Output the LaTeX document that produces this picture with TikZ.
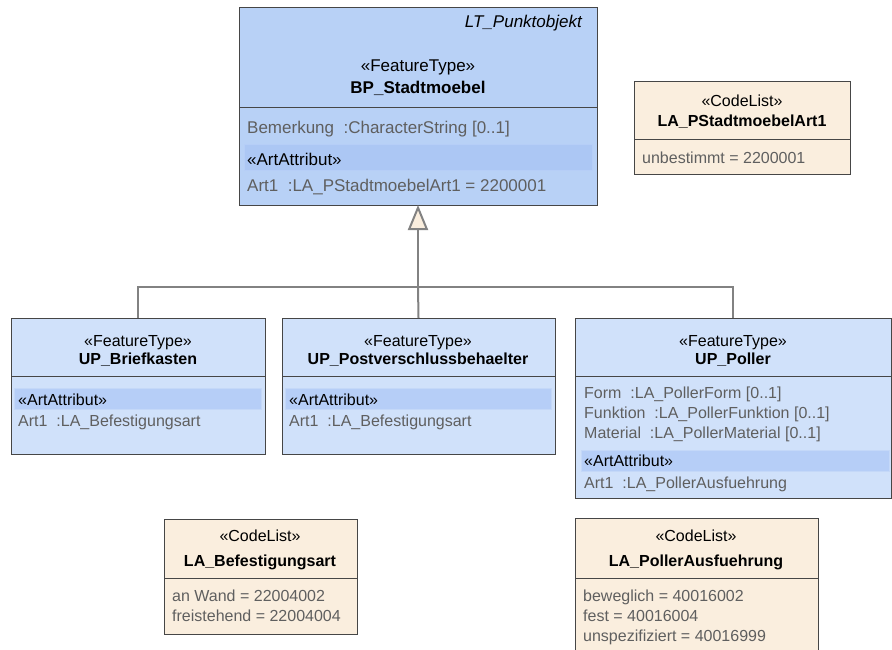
\documentclass[tikz,border=0pt]{standalone}
\usepackage{fontspec}
\setmainfont{Liberation Sans}
\usetikzlibrary{arrows.meta}
\definecolor{umlline}{RGB}{70,70,70}
\definecolor{mainfill}{RGB}{184,209,246}
\definecolor{mainband}{RGB}{172,199,244}
\definecolor{featurefill}{RGB}{208,225,250}
\definecolor{bandfill}{RGB}{182,206,247}
\definecolor{bandline}{RGB}{196,216,248}
\definecolor{codefill}{RGB}{250,238,222}
\definecolor{attrtext}{RGB}{95,95,95}
\definecolor{linkgray}{RGB}{130,130,130}
\begin{document}
\begin{tikzpicture}[x=1pt,y=-1pt]
            \tikzstyle{classbox}=[draw=umlline, line width=1pt, anchor=north west, inner sep=0pt, outer sep=0pt]
            \tikzstyle{feature}=[classbox, fill=featurefill]
            \tikzstyle{codelist}=[classbox, fill=codefill]
            \tikzstyle{stereo}=[anchor=base, inner sep=0pt, font=\fontsize{16}{19}\selectfont]
            \tikzstyle{cname}=[anchor=base, inner sep=0pt, font=\fontsize{16}{19}\selectfont\bfseries]
            \tikzstyle{attr}=[anchor=base west, inner sep=0pt, text=attrtext, font=\fontsize{16}{19}\selectfont]
            \tikzstyle{band}=[fill=bandfill, draw=bandline, line width=1pt]
            \tikzstyle{link}=[draw=linkgray, line width=2pt]
            \useasboundingbox (0,0) rectangle (892,650);
            \node[feature, fill=mainfill, minimum width=358, minimum height=197] (stadtmoebel) at (239,8) {};
            \draw[umlline, line width=1pt] (239,108) -- (597,108);
            \draw[band, fill=mainband, draw=bandfill] (244,145) rectangle (592,171);
            \node[anchor=base east, inner sep=0pt, font=\fontsize{17}{20}\selectfont\itshape] (stadtmoebeltag) at (582,28) {LT\_Punktobjekt};
            \node[stereo, font=\fontsize{17}{20}\selectfont] (stadtmoebelstereo) at (418,72) {«FeatureType»};
            \node[cname, font=\fontsize{17}{20}\selectfont\bfseries] (stadtmoebelname) at (418,94) {BP\_Stadtmoebel};
            \node[attr, font=\fontsize{17}{20}\selectfont] (bemerkung) at (247,134) {Bemerkung\ \ :CharacterString [0..1]};
            \node[attr, text=black, font=\fontsize{17}{20}\selectfont] (stadtmoebelart) at (247,166) {«ArtAttribut»};
            \node[attr, font=\fontsize{17}{20}\selectfont] (stadtmoebelartone) at (247,192) {Art1\ \ :LA\_PStadtmoebelArt1 = 2200001};
            \node[codelist, minimum width=216, minimum height=93] (artliste) at (634,82) {};
            \draw[umlline, line width=1pt] (634,140) -- (850,140);
            \node[stereo] (artlistestereo) at (742,107) {«CodeList»};
            \node[cname] (artlistename) at (742,127) {LA\_PStadtmoebelArt1};
            \node[attr] (unbestimmt) at (642,164) {unbestimmt = 2200001};
            \node[feature, minimum width=254, minimum height=136] (briefkasten) at (11,318) {};
            \draw[umlline, line width=1pt] (11,376) -- (265,376);
            \draw[band] (14,388) rectangle (261,409);
            \node[stereo] (briefkastenstereo) at (138,346) {«FeatureType»};
            \node[cname] (briefkastenname) at (138,364) {UP\_Briefkasten};
            \node[attr, text=black] (briefkastenart) at (18,405) {«ArtAttribut»};
            \node[attr] (briefkastenartone) at (18,426) {Art1\ \ :LA\_Befestigungsart};
            \node[feature, minimum width=273, minimum height=136] (postbehaelter) at (282,318) {};
            \draw[umlline, line width=1pt] (282,376) -- (555,376);
            \draw[band] (285,388) rectangle (551,409);
            \node[stereo] (postbehaelterstereo) at (418,346) {«FeatureType»};
            \node[cname] (postbehaeltername) at (418,364) {UP\_Postverschlussbehaelter};
            \node[attr, text=black] (postbehaelterart) at (289,405) {«ArtAttribut»};
            \node[attr] (postbehaelterartone) at (289,426) {Art1\ \ :LA\_Befestigungsart};
            \node[feature, minimum width=316, minimum height=180] (poller) at (575,318) {};
            \draw[umlline, line width=1pt] (575,376) -- (891,376);
            \draw[band] (581,450) rectangle (889,471);
            \node[stereo] (pollerstereo) at (733,346) {«FeatureType»};
            \node[cname] (pollername) at (733,364) {UP\_Poller};
            \node[attr] (pollerform) at (584,398) {Form\ \ :LA\_PollerForm [0..1]};
            \node[attr] (pollerfunktion) at (584,418) {Funktion\ \ :LA\_PollerFunktion [0..1]};
            \node[attr] (pollermaterial) at (584,438) {Material\ \ :LA\_PollerMaterial [0..1]};
            \node[attr, text=black] (pollerart) at (584,466) {«ArtAttribut»};
            \node[attr] (pollerartone) at (584,488) {Art1\ \ :LA\_PollerAusfuehrung};
            \node[codelist, minimum width=193, minimum height=115] (befestigung) at (164,519) {};
            \draw[umlline, line width=1pt] (164,578) -- (357,578);
            \node[stereo] (befestigungstereo) at (260,541) {«CodeList»};
            \node[cname] (befestigungname) at (260,566) {LA\_Befestigungsart};
            \node[attr] (anwand) at (172,601) {an Wand = 22004002};
            \node[attr] (freistehend) at (172,621) {freistehend = 22004004};
            \node[codelist, minimum width=243, minimum height=140] (ausfuehrung) at (575,518) {};
            \draw[umlline, line width=1pt] (575,578) -- (818,578);
            \node[stereo] (ausfuehrungstereo) at (696,541) {«CodeList»};
            \node[cname] (ausfuehrungname) at (696,566) {LA\_PollerAusfuehrung};
            \node[attr] (beweglich) at (583,601) {beweglich = 40016002};
            \node[attr] (fest) at (583,621) {fest = 40016004};
            \node[attr] (unspezifiziert) at (583,641) {unspezifiziert = 40016999};
            \coordinate (join) at (418,287);
            \draw[link] (briefkasten.north) |- (join);
            \draw[link] (poller.north) |- (join);
            \draw[link] (postbehaelter.north) -- (join);
            \draw[link, -{Triangle[length=25pt, width=20pt, fill=codefill]}] (join) -- (stadtmoebel.south);
        \end{tikzpicture}
\end{document}
